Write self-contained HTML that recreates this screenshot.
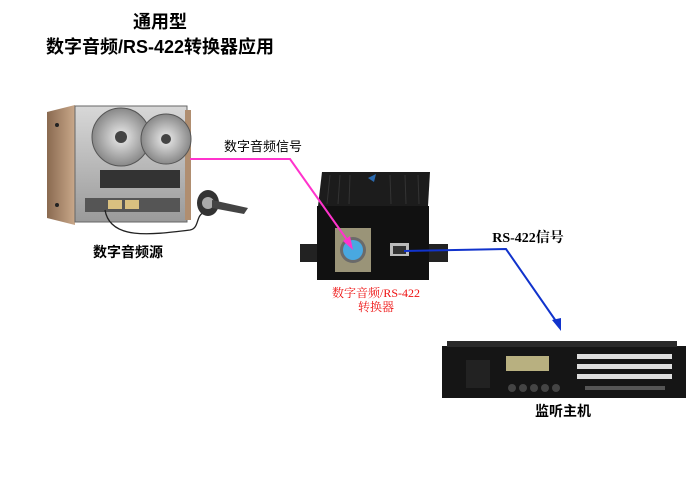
<!DOCTYPE html>
<html><head><meta charset="utf-8"><style>
html,body{margin:0;padding:0;background:#fff;width:700px;height:495px;overflow:hidden}
svg{display:block}
</style></head><body>
<svg width="700" height="495" viewBox="0 0 700 495" xmlns="http://www.w3.org/2000/svg">
<defs>
<linearGradient id="wood" x1="0" x2="1"><stop offset="0" stop-color="#8a6a50"/><stop offset="1" stop-color="#c9a88a"/></linearGradient>
<linearGradient id="metal" x1="0" y1="0" x2="0" y2="1"><stop offset="0" stop-color="#d8d8d8"/><stop offset="1" stop-color="#9a9a9a"/></linearGradient>
<radialGradient id="reel"><stop offset="0" stop-color="#eee"/><stop offset="1" stop-color="#888"/></radialGradient>
</defs>
<g font-family="'Liberation Sans','Noto Sans CJK SC',sans-serif" font-weight="bold" fill="#000">
<text x="160" y="28" font-size="18" text-anchor="middle">通用型</text>
<text x="160" y="53" font-size="18" text-anchor="middle">数字音频/RS-422转换器应用</text>
</g>
<!-- tape deck -->
<polygon points="47,112 75,105 75,225 47,218" fill="url(#wood)"/>
<rect x="75" y="106" width="112" height="116" fill="url(#metal)" stroke="#666"/>
<rect x="185" y="110" width="6" height="110" fill="#b08e70"/>
<circle cx="57" cy="125" r="2" fill="#222"/><circle cx="57" cy="205" r="2" fill="#222"/>
<circle cx="121" cy="137" r="29" fill="url(#reel)" stroke="#555"/>
<circle cx="121" cy="137" r="6" fill="#444"/>
<circle cx="166" cy="139" r="25" fill="url(#reel)" stroke="#555"/>
<circle cx="166" cy="139" r="5" fill="#444"/>
<rect x="100" y="170" width="80" height="18" fill="#333"/>
<rect x="85" y="198" width="95" height="14" fill="#555"/>
<rect x="108" y="200" width="14" height="9" fill="#d9c080"/><rect x="125" y="200" width="14" height="9" fill="#d9c080"/>
<path d="M105 210 C110 240,150 235,190 230 C200 228,195 215,205 212" fill="none" stroke="#222" stroke-width="1.3"/>
<ellipse cx="208" cy="203" rx="11" ry="13" fill="#333"/><circle cx="208" cy="203" r="6" fill="#aaa"/>
<path d="M212 200 L248 208 L244 214 L212 208Z" fill="#444"/>
<text x="128" y="257" font-size="14" font-weight="bold" text-anchor="middle" font-family="'Liberation Sans','Noto Sans CJK SC',sans-serif">数字音频源</text>
<!-- converter -->
<polygon points="322,172 430,172 428,206 318,206" fill="#1c1c1c"/>
<g stroke="#333" stroke-width="1"><line x1="330" y1="175" x2="327" y2="204"/><line x1="340" y1="175" x2="338" y2="204"/><line x1="350" y1="175" x2="349" y2="204"/><line x1="390" y1="175" x2="391" y2="204"/><line x1="405" y1="175" x2="406" y2="204"/><line x1="418" y1="175" x2="419" y2="204"/></g>
<polygon points="368,178 376,174 374,182" fill="#2a6ab0"/>
<rect x="300" y="244" width="22" height="18" fill="#222"/>
<rect x="426" y="244" width="22" height="18" fill="#222"/>
<rect x="317" y="206" width="112" height="74" fill="#111"/>
<rect x="335" y="228" width="36" height="44" fill="#9a9478"/>
<circle cx="353" cy="250" r="13" fill="#6a6a6a"/>
<circle cx="353" cy="250" r="10" fill="#49a8e0"/>
<rect x="390" y="243" width="19" height="13" fill="#bbb"/><rect x="393" y="246" width="13" height="8" fill="#333"/>
<text x="376" y="297" font-size="12" fill="#ee1111" text-anchor="middle" font-family="'Liberation Serif','Noto Serif CJK SC',serif">数字音频/RS-422</text>
<text x="376" y="311" font-size="12" fill="#ee1111" text-anchor="middle" font-family="'Liberation Serif','Noto Serif CJK SC',serif">转换器</text>
<!-- pink connector -->
<text x="263" y="151" font-size="13" text-anchor="middle" font-family="'Liberation Sans','Noto Sans CJK SC',sans-serif">数字音频信号</text>
<polyline points="190,159 290,159 350,244" fill="none" stroke="#ff33cc" stroke-width="2"/>
<polygon points="353,250 343,241 350,236" fill="#ff33cc"/>
<!-- blue connector -->
<text x="528" y="242" font-size="14" font-weight="bold" text-anchor="middle" font-family="'Liberation Serif','Noto Serif CJK SC',serif">RS-422信号</text>
<polyline points="404,251 506,249 558,324" fill="none" stroke="#1133cc" stroke-width="2"/>
<polygon points="561,331 552,320 561,318" fill="#1133cc"/>
<!-- monitor host -->
<rect x="442" y="346" width="244" height="52" fill="#151515"/>
<rect x="447" y="341" width="230" height="6" fill="#2a2a2a"/>
<rect x="466" y="360" width="24" height="28" fill="#222"/>
<rect x="506" y="356" width="43" height="15" fill="#b8b080"/>
<g fill="#444"><circle cx="512" cy="388" r="4"/><circle cx="523" cy="388" r="4"/><circle cx="534" cy="388" r="4"/><circle cx="545" cy="388" r="4"/><circle cx="556" cy="388" r="4"/></g>
<g fill="#ddd">
<rect x="577" y="354" width="95" height="5"/><rect x="577" y="364" width="95" height="5"/><rect x="577" y="374" width="95" height="5"/>
</g>
<g fill="#555"><rect x="585" y="386" width="80" height="4"/></g>
<text x="563" y="416" font-size="14" font-weight="bold" text-anchor="middle" font-family="'Liberation Sans','Noto Sans CJK SC',sans-serif">监听主机</text>
</svg>
</body></html>
